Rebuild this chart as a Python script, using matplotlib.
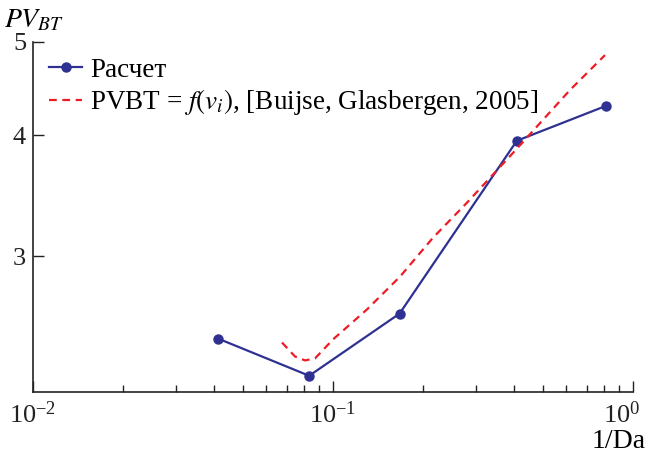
import matplotlib
matplotlib.use("Agg")
from matplotlib import pyplot as plt
from matplotlib import ticker, transforms

plt.rcParams['font.family'] = ['Liberation Serif', 'DejaVu Serif']
plt.rcParams['mathtext.fontset'] = 'stix'

# calculated points
calc_x = [0.0415, 0.0833, 0.1667, 0.41, 0.81]
calc_y = [2.466, 2.258, 2.618, 3.95, 4.29]

# PVBT = f(vi), Buijse & Glasbergen 2005
ref_x = [0.0676, 0.0747, 0.0807, 0.0871, 0.1, 0.1298, 0.1673, 0.2154,
         0.2797, 0.398, 0.6166, 0.8066]
ref_y = [2.444, 2.364, 2.342, 2.353, 2.462, 2.644, 2.859, 3.136,
         3.409, 3.837, 4.457, 4.843]

x_ticks = [0.01, 0.1, 1]
y_ticks = [3, 4, 5]

blue = "#2E3192"
red = "#EE1C25"

fig = plt.figure(figsize=(6.49, 4.58), dpi=100)
ax = fig.add_axes([33 / 649, 1 - 391.7 / 458, 600 / 649, (391.7 - 41.7) / 458])

ax.plot(calc_x, calc_y, color=blue, lw=1.6, marker="o", ms=6.5, label="Расчет")
ax.plot(ref_x, ref_y, color=red, lw=1.6, ls=(0, (3.5, 2.5)),
        label=r"PVBT = $f(v_i)$, [Buijse, Glasbergen, 2005]")

ax.set_xscale("log")
ax.set_yscale("log")
ax.set_xlim(0.01, 1)
ax.set_ylim(2.174, 5)

ax.yaxis.set_major_locator(ticker.FixedLocator(y_ticks))
ax.yaxis.set_major_formatter(ticker.FixedFormatter([str(t) for t in y_ticks]))
ax.yaxis.set_minor_locator(ticker.NullLocator())
ax.xaxis.set_major_locator(ticker.FixedLocator(x_ticks))
ax.xaxis.set_major_formatter(ticker.LogFormatterMathtext())
ax.xaxis.set_minor_locator(ticker.LogLocator(base=10, subs=range(2, 10)))
ax.xaxis.set_minor_formatter(ticker.NullFormatter())

for s in ["top", "right"]:
    ax.spines[s].set_visible(False)
for s in ["left", "bottom"]:
    ax.spines[s].set_color("#222222")
    ax.spines[s].set_linewidth(1.2)

ax.tick_params(axis="x", which="major", direction="in", length=8,
               width=1, colors="#222222", labelsize=19, pad=7)
ax.tick_params(axis="y", which="major", direction="in", length=8,
               width=1, colors="#222222", labelsize=19, pad=5)
ax.tick_params(axis="x", which="minor", direction="in", length=5, width=1,
               colors="#222222")

# pull the last x label (10^0) slightly left so it stays inside the figure
fig.canvas.draw()
last = ax.xaxis.get_major_ticks()[-1].label1
last.set_transform(last.get_transform() +
                   transforms.ScaledTranslation(-8 / 72, 0, fig.dpi_scale_trans))

leg = ax.legend(loc="upper left", bbox_to_anchor=(0.0, 1.0), frameon=False,
                fontsize=19.5, handlelength=1.2, handletextpad=0.3,
                labelspacing=0.15, borderaxespad=0.2)

fig.text(4, 437, r"$PV_{BT}$", transform=None, fontsize=20, va="center")
fig.text(646, 16, "1/Da", transform=None, fontsize=20, ha="right", va="center")

fig.savefig("out.png", dpi=100)
